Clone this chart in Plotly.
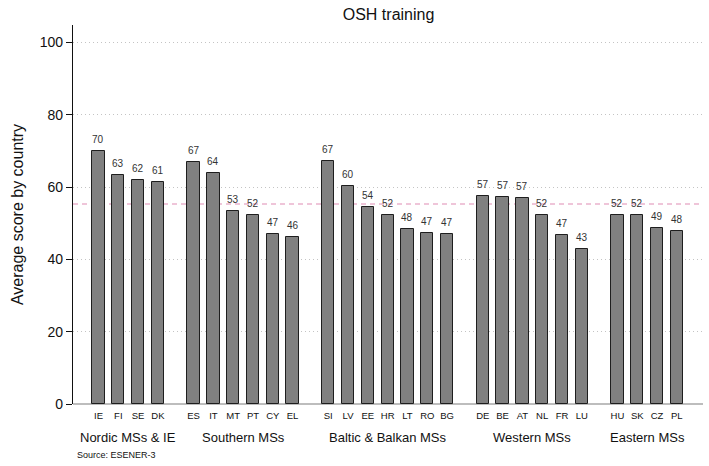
import numpy as np
import plotly.graph_objects as go

# Country groups, codes and average OSH-training scores
groups = ["Nordic MSs & IE", "Southern MSs", "Baltic & Balkan MSs", "Western MSs", "Eastern MSs"]
countries = [
    ["IE", "FI", "SE", "DK"],
    ["ES", "IT", "MT", "PT", "CY", "EL"],
    ["SI", "LV", "EE", "HR", "LT", "RO", "BG"],
    ["DE", "BE", "AT", "NL", "FR", "LU"],
    ["HU", "SK", "CZ", "PL"],
]
scores = [
    [69.9, 63.4, 61.9, 61.4],
    [66.9, 63.8, 53.4, 52.4, 46.9, 46.1],
    [67.1, 60.4, 54.4, 52.4, 48.3, 47.4, 46.9],
    [57.4, 57.2, 56.9, 52.2, 46.7, 42.9],
    [52.4, 52.3, 48.8, 47.8],
]
eu_average = 55.3
y_ticks = [0, 20, 40, 60, 80, 100]

# Bar positions: unit spacing within a group, wider gap between groups
group_gap = 1.8
xs, codes, vals, centers = [], [], [], []
pos = 0.0
for gi, (cs, vs) in enumerate(zip(countries, scores)):
    if gi > 0:
        pos += group_gap - 1
    gx = []
    for c, v in zip(cs, vs):
        gx.append(pos)
        codes.append(c)
        vals.append(v)
        pos += 1
    xs.extend(gx)
    centers.append(np.mean(gx))
last = xs[-1]

fig = go.Figure()
fig.add_trace(go.Bar(
    x=xs, y=vals, width=0.62,
    marker=dict(color="#808080", line=dict(color="#1e1e1e", width=1)),
    hoverinfo="x+y", showlegend=False,
))

annotations = []
for x, v in zip(xs, vals):
    annotations.append(dict(
        x=x, y=v, xref="x", yref="y", text=f"{v:.0f}", showarrow=False,
        yanchor="bottom", yshift=4, font=dict(size=10, color="#333333"),
    ))
for gname, cx in zip(groups, centers):
    annotations.append(dict(
        x=cx, y=0, xref="x", yref="paper", text=gname, showarrow=False,
        yanchor="middle", yshift=-33, font=dict(size=13, color="#111111"),
    ))
annotations.append(dict(
    x=0, y=0, xref="paper", yref="paper", text="Source: ESENER-3", showarrow=False,
    xanchor="left", yanchor="middle", xshift=2, yshift=-51,
    font=dict(size=9, color="#111111"),
))

fig.add_shape(
    type="line", xref="paper", yref="y", x0=0, x1=1, y0=eu_average, y1=eu_average,
    line=dict(color="#e08cb4", width=1.2, dash="5px,4px"), layer="below",
)

fig.update_layout(
    width=709, height=466,
    margin=dict(l=73, r=6, t=25, b=62),
    paper_bgcolor="white", plot_bgcolor="white",
    font=dict(family="Liberation Sans, Arial, sans-serif", color="#111111"),
    title=dict(text="OSH training", x=0.548, xanchor="center", y=0.97, yanchor="middle",
               font=dict(size=16, color="#111111")),
    annotations=annotations,
    bargap=0,
)
fig.update_xaxes(
    range=[-1.287, last + 1.32],
    tickvals=xs, ticktext=codes, tickfont=dict(size=9.5, color="#111111"),
    ticks="", ticklabelstandoff=4,
    showgrid=False, showline=False, zeroline=False, fixedrange=True,
)
fig.update_yaxes(
    range=[0, 104.8], tickvals=y_ticks, tickfont=dict(size=14, color="#111111"),
    ticks="outside", ticklen=6, tickcolor="#111111",
    showline=True, linecolor="#111111", linewidth=1.2,
    showgrid=True, gridcolor="#c4c4c4", griddash="1px,3px", gridwidth=1,
    zeroline=True, zerolinecolor="#bdbdbd", zerolinewidth=2,
    title=dict(text="Average score by country", font=dict(size=16, color="#111111"), standoff=12),
    fixedrange=True,
)

fig.write_html("out.html")
